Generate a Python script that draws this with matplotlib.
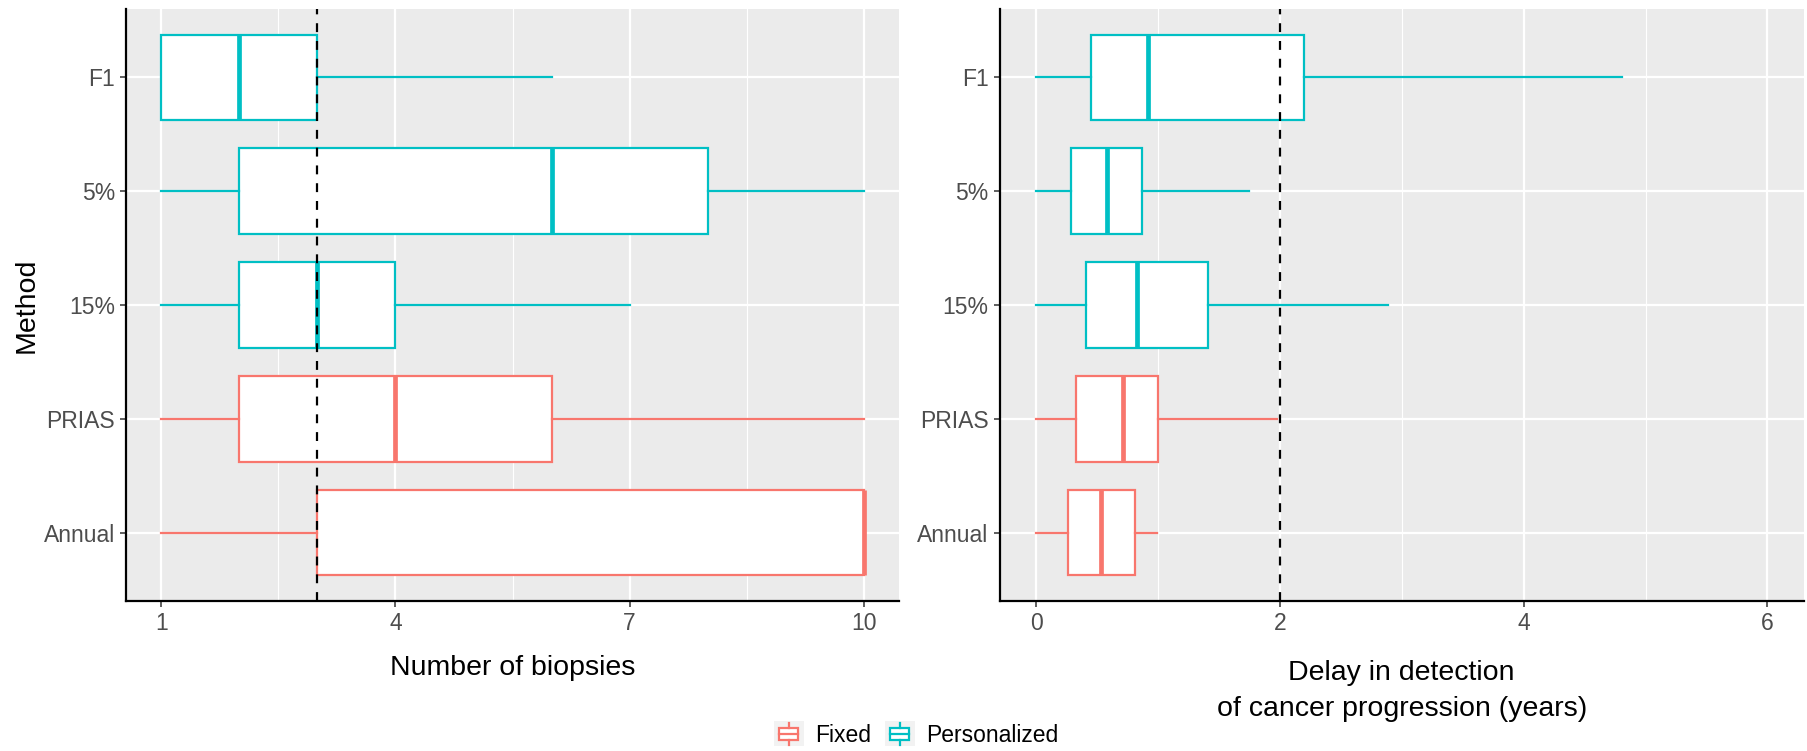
import matplotlib
matplotlib.use("Agg")
import matplotlib.pyplot as plt
from matplotlib.patches import Rectangle
from matplotlib.lines import Line2D
from matplotlib.legend_handler import HandlerBase

plt.rcParams['font.family'] = ['Liberation Sans', 'DejaVu Sans']

# ---- data ----
methods = ["Annual", "PRIAS", "15%", "5%", "F1"]
groups = ["Fixed", "Fixed", "Personalized", "Personalized", "Personalized"]

biopsy_min = [1, 1, 1, 1, 1]
biopsy_q1 = [3, 2, 2, 2, 1]
biopsy_med = [10, 4, 3, 6, 2]
biopsy_q3 = [10, 6, 4, 8, 3]
biopsy_max = [10, 10, 7, 10, 6]

delay_min = [0, 0, 0, 0, 0]
delay_q1 = [0.26, 0.33, 0.41, 0.29, 0.45]
delay_med = [0.53, 0.71, 0.83, 0.58, 0.92]
delay_q3 = [0.81, 1.00, 1.41, 0.87, 2.20]
delay_max = [0.99, 1.98, 2.89, 1.75, 4.81]

biopsy_ref = 3
delay_ref = 2

colors = {"Fixed": "#F8766D", "Personalized": "#00BFC4"}

TICK_FS = 16.5
TITLE_FS = 20.5
PANEL_BG = "#EBEBEB"

fig = plt.figure(figsize=(18.07, 7.51), dpi=100)
ax1 = fig.add_axes([126 / 1807, 1 - 601 / 751, (899 - 126) / 1807, (601 - 9) / 751])
ax2 = fig.add_axes([999.5 / 1807, 1 - 601 / 751, (1804 - 999.5) / 1807, (601 - 9) / 751])


def draw_panel(ax, mins, q1s, meds, q3s, maxs, ref, xlim, major, minor, xlabel, pad, ls):
    ax.set_facecolor(PANEL_BG)
    for i, m in enumerate(methods):
        st = [dict(whislo=mins[i], q1=q1s[i], med=meds[i], q3=q3s[i], whishi=maxs[i],
                   fliers=[], label=m)]
        c = colors[groups[i]]
        ax.bxp(st, positions=[i + 1], widths=0.75, orientation='horizontal',
               showcaps=False, showfliers=False, patch_artist=True,
               boxprops=dict(facecolor='white', edgecolor=c, linewidth=1.6),
               whiskerprops=dict(color=c, linewidth=1.6),
               medianprops=dict(color=c, linewidth=3.4, solid_capstyle='butt'),
               zorder=3)
    ax.axvline(ref, color='black', linestyle=(0, (4, 4)), linewidth=1.6, zorder=4)
    ax.set_xlim(*xlim)
    ax.set_ylim(0.4, 5.6)
    ax.set_xticks(major)
    ax.set_xticks(minor, minor=True)
    ax.set_xticklabels([str(v) for v in major])
    ax.set_yticks(range(1, len(methods) + 1))
    ax.set_yticklabels(methods)
    ax.grid(which='major', color='white', linewidth=1.6, zorder=0)
    ax.grid(which='minor', axis='x', color='white', linewidth=0.8, zorder=0)
    ax.set_axisbelow(True)
    for s in ['top', 'right']:
        ax.spines[s].set_visible(False)
    for s in ['left', 'bottom']:
        ax.spines[s].set_color('black')
        ax.spines[s].set_linewidth(1.6)
    ax.tick_params(which='major', length=4, width=1.1, color='#333333',
                   labelsize=TICK_FS, labelcolor='#4D4D4D', pad=4)
    ax.tick_params(which='minor', length=0)
    ax.set_xlabel(xlabel, fontsize=TITLE_FS, color='black', labelpad=pad, linespacing=ls)


draw_panel(ax1, biopsy_min, biopsy_q1, biopsy_med, biopsy_q3, biopsy_max, biopsy_ref,
           (0.55, 10.45), [1, 4, 7, 10], [2.5, 5.5, 8.5], "Number of biopsies", 14, 1.0)
draw_panel(ax2, delay_min, delay_q1, delay_med, delay_q3, delay_max, delay_ref,
           (-0.3, 6.3), [0, 2, 4, 6], [1, 3, 5],
           "Delay in detection\nof cancer progression (years)", 18, 1.5)
ax1.set_ylabel("Method", fontsize=TITLE_FS, color='black', labelpad=3)


class BoxKeyHandler(HandlerBase):
    def create_artists(self, legend, orig_handle, xdescent, ydescent, width, height,
                       fontsize, trans):
        c = orig_handle.get_color()
        x0, y0 = -xdescent, -ydescent
        bg = Rectangle((x0, y0), width, height, facecolor='#F2F2F2', edgecolor='none',
                       transform=trans)
        cx = x0 + width / 2
        bw = width * 0.66
        box = Rectangle((cx - bw / 2, y0 + height * 0.25), bw, height * 0.5,
                        facecolor='white', edgecolor=c, linewidth=1.6, transform=trans)
        med = Line2D([cx - bw / 2, cx + bw / 2], [y0 + height / 2] * 2, color=c,
                     linewidth=1.6, transform=trans)
        w1 = Line2D([cx, cx], [y0 + height * 0.05, y0 + height * 0.25], color=c,
                    linewidth=1.6, transform=trans)
        w2 = Line2D([cx, cx], [y0 + height * 0.75, y0 + height * 0.95], color=c,
                    linewidth=1.6, transform=trans)
        return [bg, box, med, w1, w2]


handles = [Line2D([], [], color=colors[g]) for g in ["Fixed", "Personalized"]]
fig.legend(handles, ["Fixed", "Personalized"], handler_map={Line2D: BoxKeyHandler()},
           loc='center', bbox_to_anchor=(916 / 1807, 1 - 734 / 751), ncol=2,
           frameon=False, fontsize=TICK_FS, handlelength=1.3, handleheight=1.3,
           handletextpad=0.5, columnspacing=0.6, borderaxespad=0)

fig.savefig("out.png", dpi=100)
